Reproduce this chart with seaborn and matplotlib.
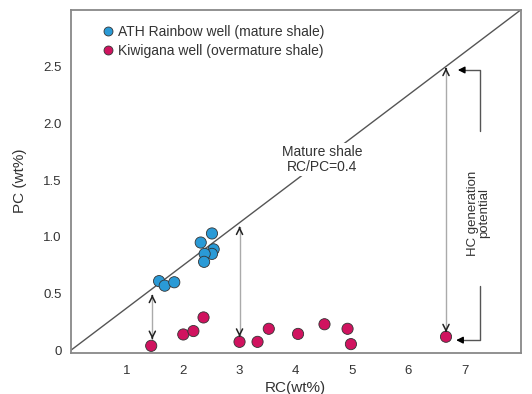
import pandas as pd
import numpy as np
import seaborn as sns
from matplotlib import pyplot as plt

# ATH Rainbow well (mature shale)
rc_rainbow = [1.57, 1.67, 1.84, 2.31, 2.51, 2.54, 2.51, 2.38, 2.37]
pc_rainbow = [0.61, 0.57, 0.60, 0.95, 1.03, 0.89, 0.85, 0.85, 0.78]
# Kiwigana well (overmature shale)
rc_kiwi = [1.43, 2.00, 2.18, 2.36, 3.00, 3.32, 3.52, 4.04, 4.51, 4.92, 4.98, 6.67]
pc_kiwi = [0.04, 0.14, 0.17, 0.29, 0.075, 0.075, 0.19, 0.145, 0.23, 0.19, 0.055, 0.12]

serie_names = ['ATH Rainbow well (mature shale)', 'Kiwigana well (overmature shale)']
cores = ['#2a9ad6', '#d0135f']

# linha de shale maduro (origem ate o canto)
linha_x = [0, 8]
linha_y = [0, 3]

# setas duplas: (RC, PC inferior, PC superior)
setas_x = [1.45, 3.0, 6.67]
setas_baixo = [0.10, 0.12, 0.16]
setas_cima = [0.49, 1.09, 2.49]

df = pd.DataFrame({
    'RC': rc_rainbow + rc_kiwi,
    'PC': pc_rainbow + pc_kiwi,
    'well': [serie_names[0]] * len(rc_rainbow) + [serie_names[1]] * len(rc_kiwi),
})

sns.set_style('white')
plt.rcParams['font.family'] = ['Liberation Sans', 'DejaVu Sans']

fig = plt.figure(figsize=(5.32, 3.94), dpi=100)
ax = fig.add_axes([0.133, 0.105, 0.846, 0.870])

ax.plot(linha_x, linha_y, color='#555555', lw=1.0, zorder=1)

sns.scatterplot(data=df, x='RC', y='PC', hue='well', palette=cores,
                s=65, edgecolor='#333333', linewidth=0.6, ax=ax, zorder=3)

# setas: linha cinza clara com pontas pretas abertas
for x, y0, y1 in zip(setas_x, setas_baixo, setas_cima):
    ax.plot([x, x], [y0, y1], color='#aaaaaa', lw=1.0, zorder=1)
    ax.annotate('', xy=(x, y0), xytext=(x, y0 + 0.01),
                arrowprops=dict(arrowstyle='->', color='#222222', lw=1.1,
                                shrinkA=0, shrinkB=0, mutation_scale=11))
    ax.annotate('', xy=(x, y1), xytext=(x, y1 - 0.01),
                arrowprops=dict(arrowstyle='->', color='#222222', lw=1.1,
                                shrinkA=0, shrinkB=0, mutation_scale=11))

# colchetes do potencial de geracao
ax.plot([7.27, 7.27, 6.95], [1.93, 2.47, 2.47], color='#555555', lw=1.0)
ax.annotate('', xy=(6.88, 2.47), xytext=(7.0, 2.47),
            arrowprops=dict(arrowstyle='-|>', color='black', lw=1.0,
                            shrinkA=0, shrinkB=0, mutation_scale=10))
ax.plot([7.27, 7.27, 6.95], [0.57, 0.09, 0.09], color='#555555', lw=1.0)
ax.annotate('', xy=(6.85, 0.09), xytext=(6.97, 0.09),
            arrowprops=dict(arrowstyle='-|>', color='black', lw=1.0,
                            shrinkA=0, shrinkB=0, mutation_scale=10))
ax.text(7.25, 1.21, 'HC generation\npotential', rotation=90, ha='center',
        va='center', fontsize=9.5, color='#333333', linespacing=1.0)

ax.text(4.47, 1.68, 'Mature shale\nRC/PC=0.4', ha='center', va='center',
        fontsize=10, color='#333333', linespacing=1.1,
        bbox=dict(facecolor='white', edgecolor='none', pad=1.5), zorder=2)

ax.set_xlim(0, 8)
ax.set_ylim(-0.02, 3.0)
ax.set_xticks([1, 2, 3, 4, 5, 6, 7])
ax.set_yticks([0, 0.5, 1.0, 1.5, 2.0, 2.5])
ax.set_yticklabels(['0', '0.5', '1.0', '1.5', '2.0', '2.5'])
ax.tick_params(axis='both', direction='out', length=3, width=1,
               color='#777777', labelsize=9.5, labelcolor='#333333')
ax.tick_params(axis='x', pad=6)
ax.set_xlabel('RC(wt%)', fontsize=11, color='#333333', labelpad=3)
ax.set_ylabel('PC (wt%)', fontsize=11, color='#333333', labelpad=12)
for sp in ax.spines.values():
    sp.set_color('#888888')
    sp.set_linewidth(1.3)

leg = ax.legend(loc='upper left', bbox_to_anchor=(0.03, 0.985), frameon=False,
                fontsize=10, handletextpad=-0.3, labelspacing=0.35,
                borderaxespad=0.3, markerscale=0.8)
for t in leg.get_texts():
    t.set_color('#333333')

fig.savefig('out.png', dpi=100)
